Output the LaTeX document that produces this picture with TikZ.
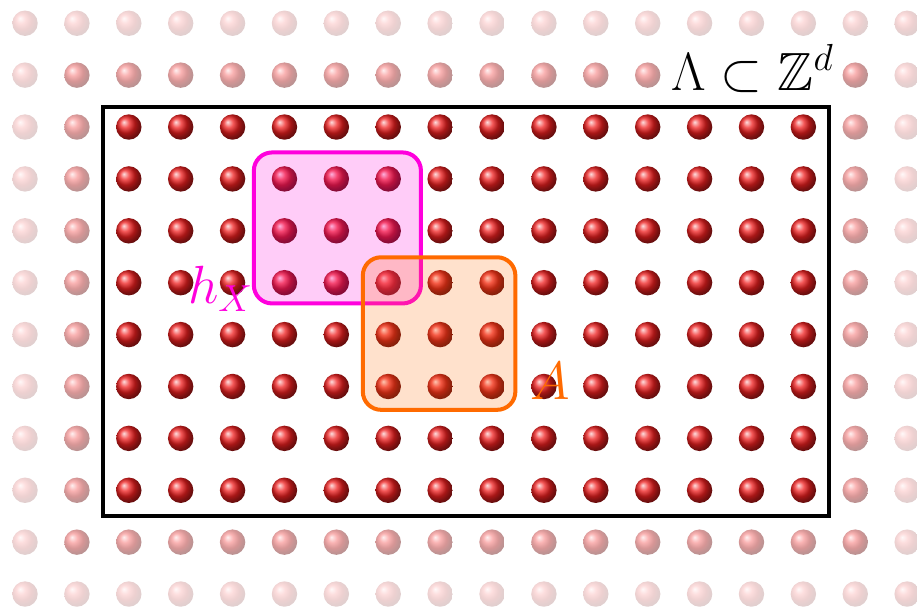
\RequirePackage{fix-cm}
\documentclass[tikz,border=0pt]{standalone}
\usepackage{amssymb}
\definecolor{siteRed}{HTML}{F02020}
\definecolor{regionMag}{HTML}{FF00DD}
\definecolor{regionOrange}{HTML}{FF6A00}
\usepackage{tikz}

\begin{document}
\begin{tikzpicture}[
      site/.style={ball color=siteRed},
      region/.style={line width=2.2pt,rounded corners=10pt,fill opacity=0.2},
      label/.style={inner sep=0pt,font=\fontsize{29.5}{34}\selectfont}]
      \useasboundingbox (-0.482,-0.309) rectangle (17.19,11.448);
      % lattice sites, fading towards the border
      \foreach \i in {0,...,17}{
        \foreach \j in {0,...,11}{
          \pgfmathtruncatemacro\ring{min(min(\i,17-\i),min(\j,11-\j))}
          \pgfmathsetmacro\op{\ring==0 ? 0.2 : (\ring==1 ? 0.45 : 1)}
          \pgfmathtruncatemacro\hide{and(\j==10,and(\i>12,\i<16))}
          \ifnum\hide=0
            \shade[site,opacity=\op] (\i,\j) circle (0.245);
          \fi
        }
      }
      % finite volume
      \draw[line width=2pt] (1.5,1.5) rectangle (15.5,9.38);
      % regions
      \draw[region,draw=regionMag,fill=regionMag,draw opacity=1] (4.41,5.6) rectangle (7.63,8.51);
      \draw[region,draw=regionOrange,fill=regionOrange,draw opacity=1] (6.51,3.55) rectangle (9.45,6.49);
      \node[label,text=regionMag,anchor=base east] (hx) at (4.4,5.6) {$h_X$};
      \node[label,text=regionOrange,anchor=base] (a) at (10.12,3.75) {$A$};
      \node[label,anchor=base west] (lambda) at (12.45,9.71) {$\Lambda\subset\mathbb{Z}^d$};
    \end{tikzpicture}
\end{document}
